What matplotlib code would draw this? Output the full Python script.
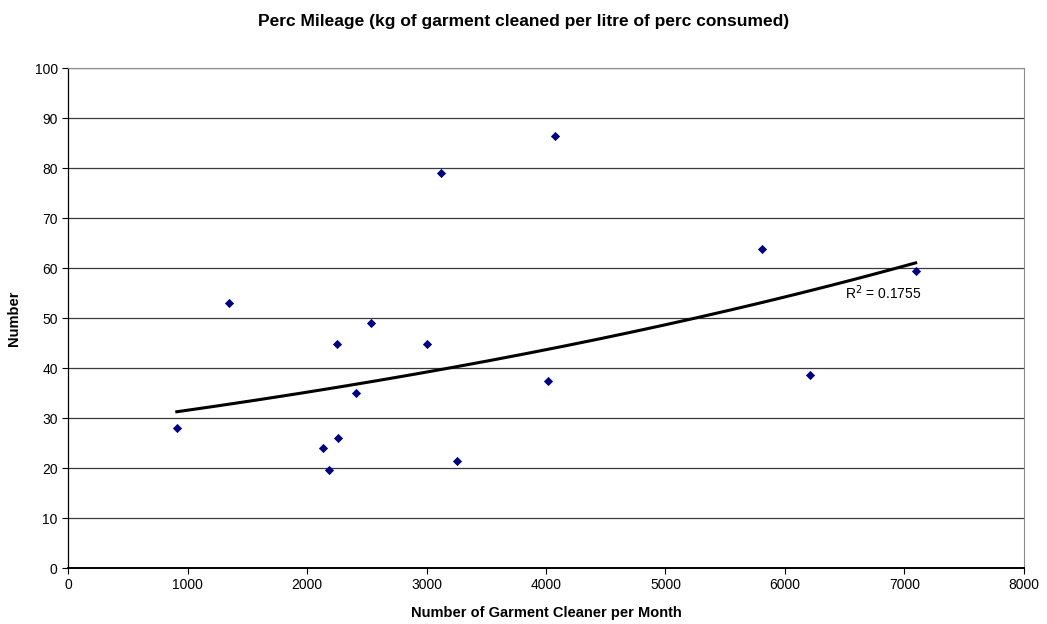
import numpy as np
import matplotlib.pyplot as plt

plt.rcParams["font.family"] = ["Liberation Sans", "DejaVu Sans"]

# garment cleaners per month vs perc mileage
cleaners = [910, 1347, 2134, 2184, 2251, 2262, 2413, 2538, 3007, 3121, 3255, 4017, 4073, 5810, 6212, 7093]
mileage = [28.0, 53.1, 24.0, 19.6, 44.9, 26.0, 35.0, 49.1, 44.9, 79.1, 21.5, 37.4, 86.5, 63.9, 38.7, 59.5]

x_ticks = list(range(0, 8001, 1000))
y_ticks = list(range(0, 101, 10))

x = np.array(cleaners, dtype=float)
y = np.array(mileage, dtype=float)

# exponential trendline as Excel does it: fit ln(y) against x
b, ln_a = np.polyfit(x, np.log(y), 1)
x_fit = np.linspace(x.min(), x.max(), 200)
y_fit = np.exp(ln_a) * np.exp(b * x_fit)

fig = plt.figure(figsize=(10.47, 6.24), dpi=100)
ax = fig.add_axes([0.065, 0.0897, 0.913, 0.8013])

for yt in y_ticks[1:]:
    ax.axhline(yt, color="#3a3a3a", linewidth=0.9, zorder=1)

ax.plot(x_fit, y_fit, color="black", linewidth=2.2, zorder=2)
ax.scatter(x, y, marker="D", s=22, color="#000080", zorder=3, linewidths=0)

ax.text(6500, 55, "R$^2$ = 0.1755", fontsize=10, ha="left", va="center")

ax.set_xlim(0, 8000)
ax.set_ylim(0, 100)
ax.set_xticks(x_ticks)
ax.set_yticks(y_ticks)
ax.tick_params(axis="both", labelsize=10, length=4, width=0.8, direction="out")

for side in ("top", "right"):
    ax.spines[side].set_color("#8c8c8c")
    ax.spines[side].set_linewidth(0.8)
ax.spines["left"].set_linewidth(0.9)
ax.spines["bottom"].set_linewidth(1.4)

ax.set_xlabel("Number of Garment Cleaner per Month", fontsize=10.5, fontweight="bold", labelpad=10)
ax.set_ylabel("Number", fontsize=10.5, fontweight="bold", labelpad=10)
fig.suptitle("Perc Mileage (kg of garment cleaned per litre of perc consumed)",
             fontsize=12.5, fontweight="bold", y=0.978)

fig.savefig("out.png", dpi=100)
